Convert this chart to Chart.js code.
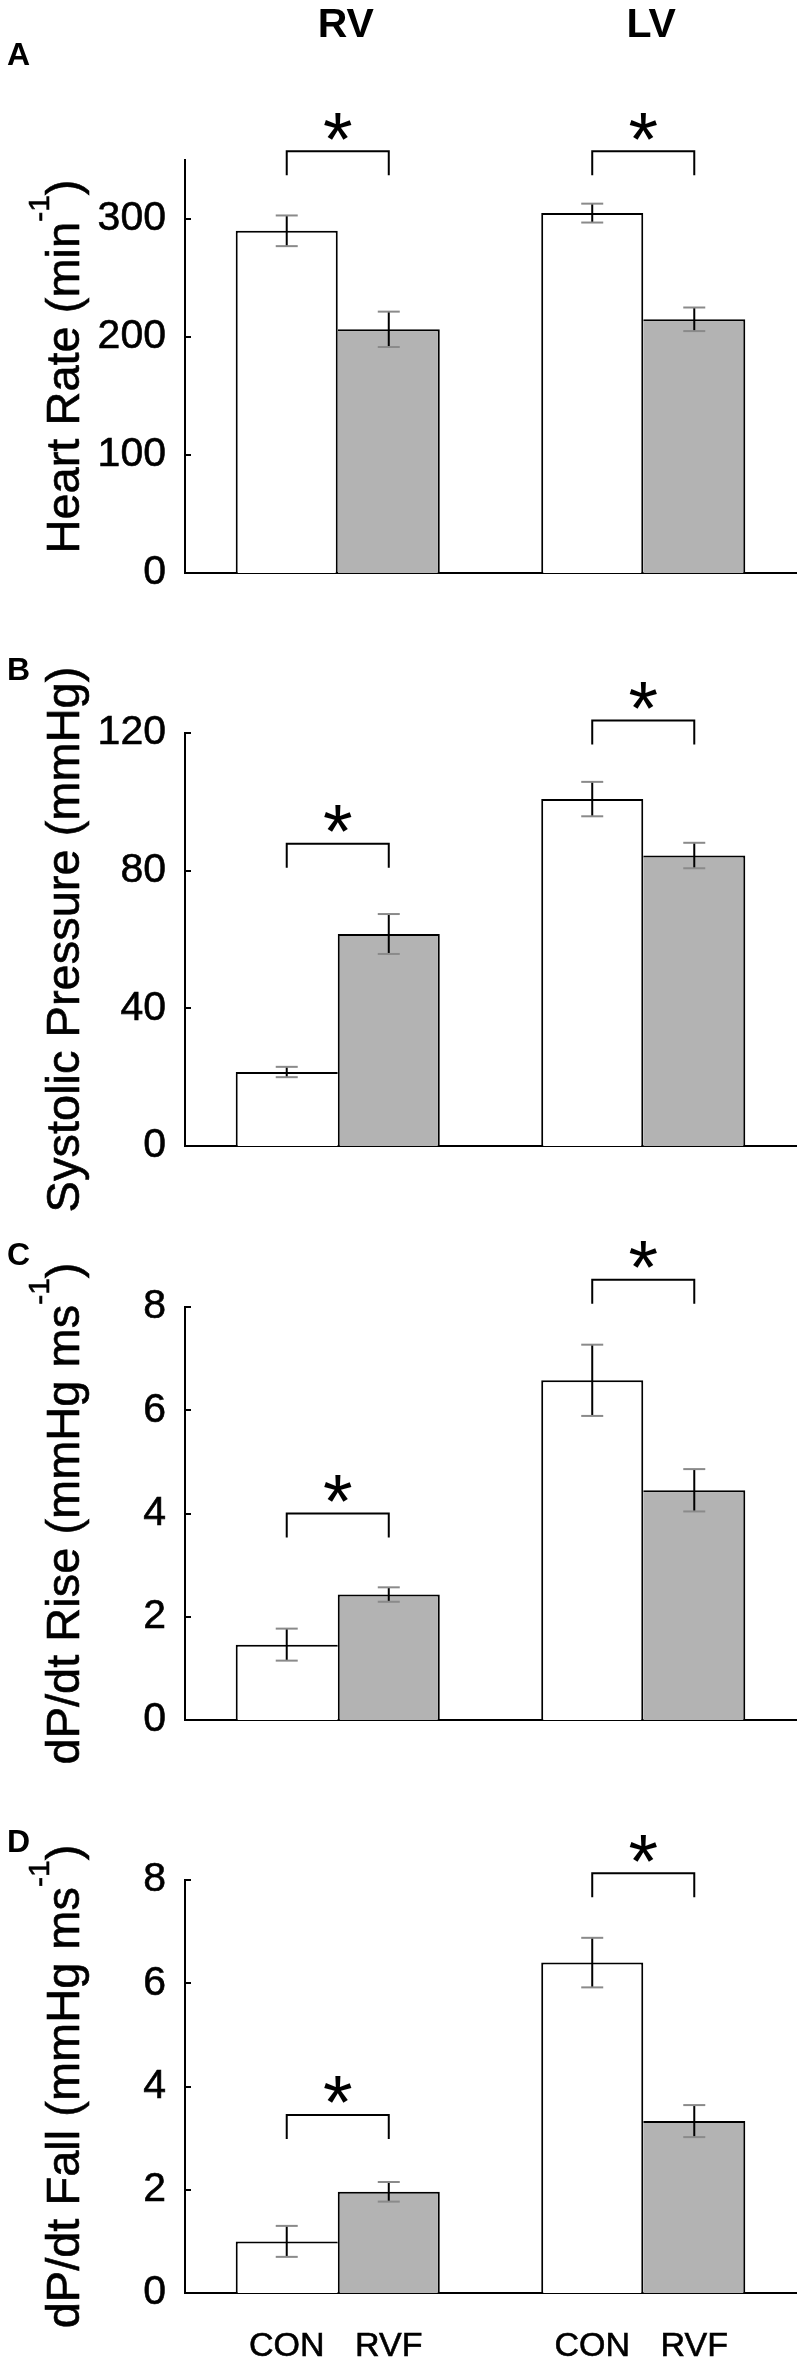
<!DOCTYPE html>
<html>
<head>
<meta charset="UTF-8">
<title>RV and LV function</title>
<style>
  body { margin: 0; background: #fff; }
  #wrap { position: relative; width: 799px; height: 2364px; }
  #wrap canvas { position: absolute; left: 0; width: 799px; height: 644px; }
</style>
<script src="https://cdn.jsdelivr.net/npm/chart.js"></script>
</head>
<body>
<div id="wrap">
  <canvas id="panelA" width="799" height="644" style="top:0px"></canvas>
  <canvas id="panelB" width="799" height="644" style="top:573px"></canvas>
  <canvas id="panelC" width="799" height="644" style="top:1147px"></canvas>
  <canvas id="panelD" width="799" height="644" style="top:1720px"></canvas>
</div>
<script>
const ventricles = ['RV', 'LV'];
const groups = ['CON', 'RVF'];

// A: heart rate (min^-1)
const hrCon = [290, 305];
const hrConErr = [13, 8];
const hrRvf = [206.5, 215];
const hrRvfErr = [15, 10];
const hrStars = [357.5, 357.5];
const hrMax = 350, hrStep = 100;

// B: systolic pressure (mmHg)
const spCon = [21.5, 100.8];
const spConErr = [1.5, 5];
const spRvf = [61.6, 84.4];
const spRvfErr = [5.8, 3.7];
const spStars = [87.8, 123.6];
const spMax = 120, spStep = 40;

// C: dP/dt rise (mmHg ms^-1)
const riseCon = [1.46, 6.58];
const riseConErr = [0.31, 0.69];
const riseRvf = [2.43, 4.45];
const riseRvfErr = [0.14, 0.41];
const riseStars = [4.0, 8.53];
const riseMax = 8, riseStep = 2;

// D: dP/dt fall (mmHg ms^-1)
const fallCon = [1.0, 6.4];
const fallConErr = [0.3, 0.48];
const fallRvf = [1.96, 3.33];
const fallRvfErr = [0.19, 0.31];
const fallStars = [3.45, 8.13];
const fallMax = 8, fallStep = 2;

const FONT = "'Liberation Sans', Arial, Helvetica, sans-serif";

const panels = [
  { id: 'panelA', letter: 'A', letterY: 65, max: hrMax, step: hrStep,
    con: hrCon, rvf: hrRvf, errs: [hrConErr, hrRvfErr], stars: hrStars,
    label: [['Heart Rate (min'], ['-1', true], [')']], titles: true },
  { id: 'panelB', letter: 'B', letterY: 107, max: spMax, step: spStep,
    con: spCon, rvf: spRvf, errs: [spConErr, spRvfErr], stars: spStars,
    label: [['Systolic Pressure (mmHg)']] },
  { id: 'panelC', letter: 'C', letterY: 118, max: riseMax, step: riseStep,
    con: riseCon, rvf: riseRvf, errs: [riseConErr, riseRvfErr], stars: riseStars,
    label: [['dP/dt Rise (mmHg ms'], ['-1', true], [')']] },
  { id: 'panelD', letter: 'D', letterY: 132, max: fallMax, step: fallStep,
    con: fallCon, rvf: fallRvf, errs: [fallConErr, fallRvfErr], stars: fallStars,
    label: [['dP/dt Fall (mmHg ms'], ['-1', true], [')']], groupLabels: true }
];

function line(ctx, pts) {
  ctx.beginPath();
  ctx.moveTo(pts[0][0], pts[0][1]);
  for (let k = 1; k < pts.length; k++) ctx.lineTo(pts[k][0], pts[k][1]);
  ctx.stroke();
}

// fill plus a thin stroke, so the text has the weight of the scanned figure
function text(ctx, t, x, y, w) {
  ctx.fillText(t, x, y);
  if (w) { ctx.lineWidth = w; ctx.strokeText(t, x, y); }
}

function extras(p) {
  return {
    id: 'extras',
    afterDatasetsDraw(chart) {
      const ctx = chart.ctx;
      const y = chart.scales.y;
      const area = chart.chartArea;
      ctx.save();
      ctx.lineCap = 'butt';

      // small inward ticks on the y axis
      ctx.strokeStyle = '#000';
      ctx.lineWidth = 2;
      y.ticks.forEach(t => {
        const py = Math.round(y.getPixelForValue(t.value));
        line(ctx, [[area.left, py], [area.left + 6, py]]);
      });

      // error bars
      p.errs.forEach((errs, di) => {
        const meta = chart.getDatasetMeta(di);
        meta.data.forEach((bar, i) => {
          const v = chart.data.datasets[di].data[i];
          const top = y.getPixelForValue(v + errs[i]);
          const bot = y.getPixelForValue(v - errs[i]);
          const x = bar.x;
          ctx.lineWidth = 2;
          ctx.strokeStyle = '#000';
          line(ctx, [[x, top], [x, bot]]);
          ctx.strokeStyle = '#8a8a8a';
          line(ctx, [[x - 11, top], [x + 11, top]]);
          line(ctx, [[x - 11, bot], [x + 11, bot]]);
        });
      });

      // significance brackets
      const m0 = chart.getDatasetMeta(0), m1 = chart.getDatasetMeta(1);
      ctx.strokeStyle = '#000';
      ctx.fillStyle = '#000';
      ctx.font = '76px ' + FONT;
      ctx.textAlign = 'center';
      p.stars.forEach((s, i) => {
        const x1 = m0.data[i].x, x2 = m1.data[i].x;
        const yt = y.getPixelForValue(s);
        ctx.lineWidth = 2;
        line(ctx, [[x1, yt + 24], [x1, yt], [x2, yt], [x2, yt + 24]]);
        const m = ctx.measureText('*');
        const cy = yt - 25 + (m.actualBoundingBoxAscent - m.actualBoundingBoxDescent) / 2;
        ctx.fillText('*', (x1 + x2) / 2, cy);
      });
      ctx.restore();
    },
    afterDraw(chart) {
      const ctx = chart.ctx;
      const area = chart.chartArea;
      ctx.save();
      ctx.fillStyle = '#000';
      ctx.strokeStyle = '#000';

      // panel letter
      ctx.font = 'bold 32px ' + FONT;
      ctx.textAlign = 'left';
      ctx.textBaseline = 'alphabetic';
      ctx.fillText(p.letter, 7, p.letterY);

      // column titles
      if (p.titles) {
        ctx.font = 'bold 41px ' + FONT;
        ctx.textAlign = 'center';
        chart.data.labels.forEach((lab, i) => {
          ctx.fillText(lab, chart.scales.x.getPixelForValue(i) + 8, 37);
        });
      }

      // group labels under each bar
      if (p.groupLabels) {
        ctx.font = '34px ' + FONT;
        ctx.textAlign = 'center';
        chart.data.datasets.forEach((ds, di) => {
          chart.getDatasetMeta(di).data.forEach(bar => {
            text(ctx, ds.label, bar.x, 636, 0.6);
          });
        });
      }

      // rotated y-axis label with superscript
      const main = '47px ' + FONT, sup = '30px ' + FONT;
      ctx.translate(79, (area.top + area.bottom) / 2);
      ctx.rotate(-Math.PI / 2);
      ctx.textAlign = 'left';
      let total = 0;
      p.label.forEach(([t, s]) => { ctx.font = s ? sup : main; total += ctx.measureText(t).width; });
      let x = -total / 2;
      p.label.forEach(([t, s]) => {
        ctx.font = s ? sup : main;
        text(ctx, t, x, s ? -30 : 0, 0.6);
        x += ctx.measureText(t).width;
      });
      ctx.restore();
    }
  };
}

function edgeWidth(ctx) {
  const d = ctx.chart.data.datasets;
  const i = ctx.dataIndex;
  const conTaller = d[0].data[i] >= d[1].data[i];
  if (ctx.datasetIndex === 0) return { top: 2, left: 2, right: conTaller ? 2 : 0, bottom: 0 };
  return { top: 2, left: conTaller ? 0 : 2, right: 2, bottom: 0 };
}

panels.forEach(p => {
  new Chart(document.getElementById(p.id), {
    type: 'bar',
    data: {
      labels: ventricles,
      datasets: [
        { label: groups[0], data: p.con, backgroundColor: '#ffffff' },
        { label: groups[1], data: p.rvf, backgroundColor: '#b3b3b3' }
      ]
    },
    options: {
      responsive: false,
      animation: false,
      devicePixelRatio: 1,
      layout: { padding: { top: 160, right: 3, bottom: 0, left: 0 } },
      datasets: {
        bar: {
          categoryPercentage: 0.668,
          barPercentage: 1,
          borderColor: '#000',
          borderWidth: edgeWidth
        }
      },
      plugins: { legend: { display: false }, tooltip: { enabled: false } },
      scales: {
        x: {
          ticks: { display: false },
          grid: { display: false, drawTicks: false },
          border: { display: true, color: '#000', width: 2 },
          afterFit: s => { s.height = 71; }
        },
        y: {
          min: 0,
          max: p.max,
          ticks: {
            stepSize: p.step,
            includeBounds: false,
            color: '#000',
            padding: 19,
            textStrokeColor: '#000',
            textStrokeWidth: 0.6,
            font: { family: FONT, size: 41 }
          },
          grid: { display: false, drawTicks: false },
          border: { display: true, color: '#000', width: 2 },
          afterFit: s => { s.width = 185; }
        }
      }
    },
    plugins: [extras(p)]
  });
});
</script>
</body>
</html>
